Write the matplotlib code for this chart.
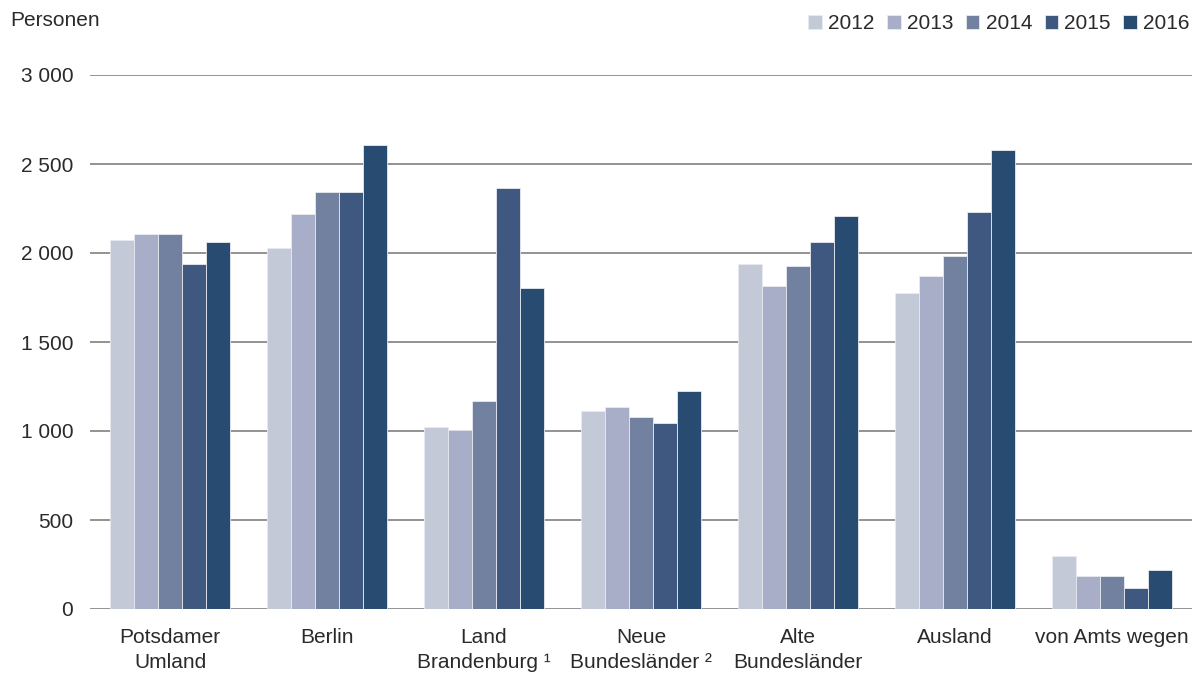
import numpy as np
import matplotlib.pyplot as plt

plt.rcParams['font.family'] = ['Liberation Sans', 'DejaVu Sans']

categories = ["Potsdamer\nUmland", "Berlin", "Land\nBrandenburg \u00b9", "Neue\nBundesl\u00e4nder \u00b2",
              "Alte\nBundesl\u00e4nder", "Ausland", "von Amts wegen"]
years = ["2012", "2013", "2014", "2015", "2016"]
v2012 = [2073, 2028, 1022, 1112, 1938, 1775, 298]
v2013 = [2107, 2219, 1006, 1135, 1815, 1871, 185]
v2014 = [2107, 2343, 1169, 1079, 1927, 1983, 185]
v2015 = [1938, 2343, 2365, 1045, 2062, 2230, 118]
v2016 = [2062, 2607, 1803, 1225, 2208, 2579, 219]
colors = ["#c3c9d7", "#a9aec8", "#72819f", "#3f5880", "#284b72"]

series = [v2012, v2013, v2014, v2015, v2016]
txt = "#2a2a2a"
fs = 15

fig = plt.figure(figsize=(12.02, 6.76), dpi=100)
ax = fig.add_axes([90 / 1202, 1 - 609 / 676, 1102 / 1202, 534 / 676])

x = np.arange(len(categories))
w = 0.153
for i, vals in enumerate(series):
    ax.bar(x + (i - 2) * w, vals, w, color=colors[i], edgecolor="#e8ebf0",
           linewidth=0.6, label=years[i], zorder=3)

ax.set_ylim(0, 3000)
ax.set_xlim(-0.51, 6.51)
ax.set_yticks(range(0, 3001, 500))
ax.set_yticklabels(["0", "500", "1 000", "1 500", "2 000", "2 500", "3 000"])
ax.yaxis.grid(True, color="#8a8a8a", linewidth=1.3, zorder=0)
ax.set_axisbelow(True)
ax.set_xticks(x)
ax.set_xticklabels(categories, linespacing=1.35)
ax.tick_params(axis="both", length=0, labelsize=fs, colors=txt)
ax.tick_params(axis="y", pad=12)
ax.tick_params(axis="x", pad=14)
for s in ax.spines.values():
    s.set_visible(False)

fig.text(10 / 1202, 1 - 20 / 676, "Personen", fontsize=fs, color=txt, va="center")

fig.legend(loc="upper right", bbox_to_anchor=(1198 / 1202, 1 - 6 / 676), ncol=5, frameon=False,
           fontsize=fs, handlelength=0.65, handleheight=0.65, handletextpad=0.3,
           columnspacing=0.6, borderaxespad=0, labelcolor=txt)

fig.savefig("out.png", dpi=100)
